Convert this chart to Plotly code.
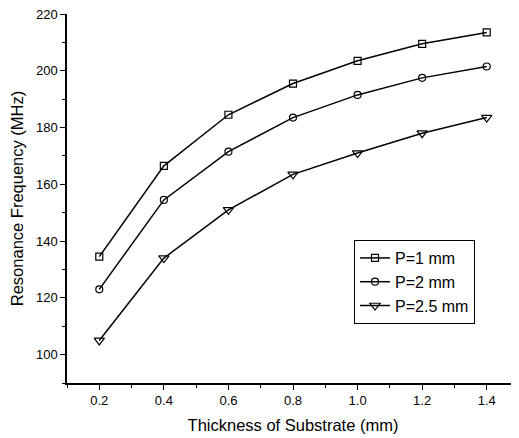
import plotly.graph_objects as go

thickness = [0.2, 0.4, 0.6, 0.8, 1.0, 1.2, 1.4]
p1 = [134.5, 166.5, 184.5, 195.5, 203.5, 209.5, 213.5]
p2 = [123.0, 154.5, 171.5, 183.5, 191.5, 197.5, 201.5]
p25 = [105.0, 134.0, 151.0, 163.5, 171.0, 178.0, 183.5]
names = ["P=1 mm", "P=2 mm", "P=2.5 mm"]
symbols = ["square-open", "circle-open", "triangle-down-open"]
sizes = [7, 7, 9]

fig = go.Figure()
for ys, nm, sym, sz in zip([p1, p2, p25], names, symbols, sizes):
    fig.add_trace(go.Scatter(
        x=thickness, y=ys, name=nm, mode="lines+markers",
        line=dict(color="black", width=1.5),
        marker=dict(symbol=sym, size=sz, color="black", line=dict(width=1.2, color="black")),
    ))

FONT = "Liberation Sans, Arial"
axis_common = dict(
    showline=True, linecolor="black", linewidth=1.5, mirror=False,
    ticks="outside", ticklen=5, tickwidth=1.2, tickcolor="black",
    showgrid=False, zeroline=False,
    tickfont=dict(family=FONT, size=13, color="black"),
    title_font=dict(family=FONT, size=16.5, color="black"),
    ticklabeloverflow="allow",
)

fig.update_xaxes(
    range=[0.1, 1.5], tickvals=[0.2, 0.4, 0.6, 0.8, 1.0, 1.2, 1.4],
    ticktext=["0.2", "0.4", "0.6", "0.8", "1.0", "1.2", "1.4"],
    minor=dict(ticks="outside", ticklen=3, tickcolor="black", dtick=0.1, tick0=0.1),
    title_text="Thickness of Substrate (mm)", title_standoff=12,
    automargin=False,
    **axis_common,
)
fig.update_yaxes(
    range=[90, 220], tickvals=[100, 120, 140, 160, 180, 200, 220],
    minor=dict(ticks="outside", ticklen=3, tickcolor="black", dtick=10, tick0=90),
    title_text="Resonance Frequency (MHz)", title_standoff=8,
    automargin=False,
    **axis_common,
)

# page body has an 8px default margin; compensate so the plot lands in place
fig.update_layout(
    width=511, height=430,
    margin=dict(l=59, r=0, t=6, b=55),
    paper_bgcolor="white", plot_bgcolor="white",
    legend=dict(
        x=0.635, y=0.3875, xanchor="left", yanchor="top",
        bordercolor="black", borderwidth=1, bgcolor="white",
        font=dict(family=FONT, size=16, color="black"),
        tracegroupgap=0, itemwidth=30,
    ),
    showlegend=True,
)

fig.write_html("out.html")
